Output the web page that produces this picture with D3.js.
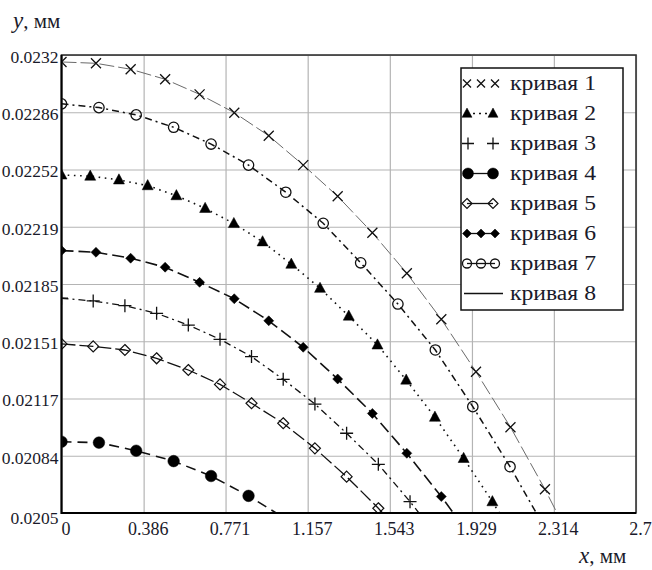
<!DOCTYPE html>
<html><head><meta charset="utf-8">
<script src="https://cdn.jsdelivr.net/npm/d3@7"></script>
<style>body{margin:0;background:#fff}svg{display:block}</style>
</head><body><div id="chart"></div>
<script>
// ---------- data ----------
const xTicks = [0, 0.386, 0.771, 1.157, 1.543, 1.929, 2.314, 2.7];
const xTickLabels = ["0", "0.386", "0.771", "1.157", "1.543", "1.929", "2.314", "2.7"];
const yTicks = [0.0205, 0.0208375, 0.021175, 0.0215125, 0.02185, 0.0221875, 0.022525, 0.0228625, 0.0232];
const yTickLabels = ["0.0205", "0.02084", "0.02117", "0.02151", "0.02185", "0.02219", "0.02252", "0.02286", "0.0232"];

const seriesNames = ["кривая 1", "кривая 2", "кривая 3", "кривая 4", "кривая 5", "кривая 6", "кривая 7", "кривая 8"];

const xA = [0, 0.162, 0.325, 0.487, 0.649, 0.812, 0.974, 1.136, 1.298, 1.461, 1.623, 1.785, 1.948, 2.110, 2.272, 2.435];
const xB = [0, 0.135, 0.270, 0.405, 0.540, 0.675, 0.810, 0.945, 1.080, 1.215, 1.350, 1.485, 1.620, 1.755, 1.890, 2.025, 2.160];
const xC = [0, 0.149, 0.298, 0.447, 0.596, 0.745, 0.893, 1.042, 1.191, 1.340, 1.489, 1.638, 1.787];
const xD = [0, 0.176, 0.351, 0.527, 0.703, 0.879, 1.054, 1.230, 1.406, 1.581, 1.757, 1.933, 2.108, 2.284];

const y1 = [0.023159, 0.023151, 0.023116, 0.023057, 0.022968, 0.022860, 0.022724, 0.022551, 0.022367, 0.022152, 0.021913, 0.021642, 0.021333, 0.021006, 0.020640, 0.020240];
const y2 = [0.022493, 0.022486, 0.022464, 0.022430, 0.022371, 0.022296, 0.022207, 0.022099, 0.021967, 0.021825, 0.021661, 0.021491, 0.021284, 0.021065, 0.020822, 0.020567, 0.020288];
const y3 = [0.021766, 0.021750, 0.021722, 0.021677, 0.021608, 0.021524, 0.021422, 0.021288, 0.021142, 0.020970, 0.020787, 0.020567, 0.020329];
const y4 = [0.020920, 0.020915, 0.020867, 0.020806, 0.020718, 0.020601, 0.020465];
const y5 = [0.021497, 0.021482, 0.021461, 0.021412, 0.021343, 0.021258, 0.021147, 0.021029, 0.020881, 0.020714, 0.020528, 0.020323];
const y6 = [0.022047, 0.022037, 0.022002, 0.021949, 0.021860, 0.021763, 0.021633, 0.021477, 0.021290, 0.021087, 0.020852, 0.020597, 0.020317];
const y7 = [0.022912, 0.022890, 0.022847, 0.022774, 0.022675, 0.022551, 0.022391, 0.022208, 0.021975, 0.021732, 0.021461, 0.021127, 0.020773, 0.020384];
const y8 = y1; // curve 8 is a thin solid line along curve 1

// ---------- layout ----------
const W = 652, H = 570;
const L = 61.5, R = 636, T = 55, B = 513;
const x = d3.scaleLinear().domain([0, 2.7]).range([L, R]);
const y = d3.scaleLinear().domain([0.0205, 0.0232]).range([B, T]);

const svg = d3.select("#chart").append("svg").attr("width", W).attr("height", H);

// grid
svg.append("g").attr("transform", `translate(0,${B})`)
  .call(d3.axisBottom(x).tickValues(xTicks).tickSize(-(B - T)).tickFormat(""))
  .call(g => g.select(".domain").remove())
  .call(g => g.selectAll("line").attr("stroke", "#b4b4b4").attr("stroke-width", 1.2));
svg.append("g").attr("transform", `translate(${L},0)`)
  .call(d3.axisLeft(y).tickValues(yTicks).tickSize(-(R - L)).tickFormat(""))
  .call(g => g.select(".domain").remove())
  .call(g => g.selectAll("line").attr("stroke", "#b4b4b4").attr("stroke-width", 1.2));

// tick labels
svg.append("g").attr("transform", `translate(0,${B})`)
  .call(d3.axisBottom(x).tickValues(xTicks).tickSize(0).tickPadding(9).tickFormat((d, i) => xTickLabels[i]))
  .call(g => g.select(".domain").remove())
  .call(g => g.selectAll("text").attr("font-family", "Liberation Serif, Times New Roman, serif")
    .attr("font-size", 18).attr("fill", "#1a1a2a").attr("dx", 4));
svg.append("g").attr("transform", `translate(${L},0)`)
  .call(d3.axisLeft(y).tickValues(yTicks).tickSize(0).tickPadding(3).tickFormat((d, i) => yTickLabels[i]))
  .call(g => g.select(".domain").remove())
  .call(g => g.selectAll("text").attr("font-family", "Liberation Serif, Times New Roman, serif")
    .attr("font-size", 17.5).attr("fill", "#1a1a2a")
    .attr("dy", (d, i) => i === 0 ? "0.62em" : "0.42em"));

// clip
svg.append("defs").append("clipPath").attr("id", "plot")
  .append("rect").attr("x", L).attr("y", T).attr("width", R - L).attr("height", B - T);
const plot = svg.append("g").attr("clip-path", "url(#plot)");

// marker shapes
const shapes = {
  times: s => `M${-s},${-s}L${s},${s}M${-s},${s}L${s},${-s}`,
  tri: s => `M0,${-s * 1.1}L${s},${s * 0.75}L${-s},${s * 0.75}Z`,
  plus: s => `M${-s},0H${s}M0,${-s}V${s}`,
  circle: s => `M${s},0A${s},${s} 0 1 1 ${-s},0A${s},${s} 0 1 1 ${s},0Z`,
  diamond: s => `M0,${-s}L${s},0L0,${s}L${-s},0Z`
};

const series = [
  {xs: xA, ys: y1, shape: "times", size: 5, fill: "none", stroke: "#111", sw: 1.3, line: false, lsize: 4, lmarks: [467, 481, 495]},
  {xs: xB, ys: y2, shape: "tri", size: 5.5, fill: "#000", stroke: "#000", sw: 0.5, line: true, dash: "1.6,4.6", lw: 1.6, lsize: 5, lmarks: [467, 493]},
  {xs: xC, ys: y3, shape: "plus", size: 6.5, fill: "none", stroke: "#111", sw: 1.3, line: true, dash: "7,4,2,4", lw: 1.3, lsize: 6, lmarks: [468, 493], lnoline: true},
  {xs: xD, ys: y4, shape: "circle", size: 5.8, fill: "#000", stroke: "#000", sw: 0.5, line: true, dash: "10,6", lw: 1.6, lsize: 5.5, lmarks: [468, 493]},
  {xs: xC, ys: y5, shape: "diamond", size: 5.5, fill: "none", stroke: "#111", sw: 1.2, line: true, dash: "14,4", lw: 1.3, lsize: 5, lmarks: [467, 493]},
  {xs: xA, ys: y6, shape: "diamond", size: 5, fill: "#000", stroke: "#000", sw: 0.5, line: true, dash: "12,5", lw: 1.6, lsize: 4.5, lmarks: [467, 481, 495]},
  {xs: xD, ys: y7, shape: "circle", size: 5.2, fill: "none", stroke: "#111", sw: 1.3, line: true, dash: "7,4,2,4", lw: 1.5, lsize: 4.5, lmarks: [467, 481, 495]},
  {xs: xA, ys: y8, shape: null, line: true, dash: "15,4", lw: 1, color: "#6a6a6a"}
];

const lineGen = d3.line().x(d => x(d[0])).y(d => y(d[1]));

series.forEach(s => {
  const pts = s.xs.slice(0, s.ys.length).map((xv, i) => [xv, s.ys[i]]);
  if (s.line) {
    plot.append("path").datum(pts).attr("d", lineGen)
      .attr("fill", "none").attr("stroke", s.color || "#111")
      .attr("stroke-width", s.lw).attr("stroke-dasharray", s.dash);
  }
});
series.forEach(s => {
  if (!s.shape) return;
  const pts = s.xs.slice(0, s.ys.length).map((xv, i) => [xv, s.ys[i]]).filter(d => d[1] >= 0.0205);
  plot.selectAll(null).data(pts).enter().append("path")
    .attr("transform", d => `translate(${x(d[0])},${y(d[1])})`)
    .attr("d", shapes[s.shape](s.size))
    .attr("fill", s.fill).attr("stroke", s.stroke).attr("stroke-width", s.sw);
});

// frame
svg.append("rect").attr("x", L).attr("y", T).attr("width", R - L).attr("height", B - T)
  .attr("fill", "none").attr("stroke", "#333").attr("stroke-width", 1.6);
svg.append("line").attr("x1", L).attr("x2", L).attr("y1", T).attr("y2", B + 1)
  .attr("stroke", "#000").attr("stroke-width", 2);
svg.append("line").attr("x1", L).attr("x2", R).attr("y1", B).attr("y2", B)
  .attr("stroke", "#000").attr("stroke-width", 2);

// legend
const lg = svg.append("g");
lg.append("rect").attr("x", 461).attr("y", 68).attr("width", 162).attr("height", 242)
  .attr("fill", "#fff").attr("stroke", "#111").attr("stroke-width", 1.5);
series.forEach((s, i) => {
  const cy = 83.5 + 30 * i;
  if (!s.shape) {
    lg.append("line").attr("x1", 464).attr("x2", 503).attr("y1", cy).attr("y2", cy)
      .attr("stroke", "#111").attr("stroke-width", 1.3);
  } else {
    if (s.line && !s.lnoline) {
      lg.append("line").attr("x1", s.lmarks[0]).attr("x2", s.lmarks[s.lmarks.length - 1])
        .attr("y1", cy).attr("y2", cy).attr("stroke", "#111").attr("stroke-width", 1.3)
        .attr("stroke-dasharray", s.shape === "tri" ? "2,4" : null);
    }
    s.lmarks.forEach(mx => {
      lg.append("path").attr("transform", `translate(${mx},${cy})`)
        .attr("d", shapes[s.shape](s.lsize))
        .attr("fill", s.fill).attr("stroke", s.stroke).attr("stroke-width", s.sw);
    });
  }
  lg.append("text").attr("x", 510).attr("y", cy).attr("dy", "0.33em")
    .attr("font-family", "Liberation Serif, Times New Roman, serif").attr("font-size", 20.5)
    .attr("textLength", 86).attr("lengthAdjust", "spacingAndGlyphs")
    .attr("fill", "#1a1a2a").text(seriesNames[i]);
});

// axis titles
const ty = svg.append("text").attr("x", 13).attr("y", 28)
  .attr("font-family", "Liberation Serif, serif").attr("font-size", 21).attr("fill", "#1a1a2a");
ty.append("tspan").attr("font-style", "italic").attr("font-size", 23).text("y");
ty.append("tspan").text(", мм");
const tx = svg.append("text").attr("x", 579).attr("y", 569).attr("dy", "-0.3em")
  .attr("font-family", "Liberation Serif, serif").attr("font-size", 21).attr("fill", "#1a1a2a");
tx.append("tspan").attr("font-style", "italic").attr("font-size", 23).text("x");
tx.append("tspan").text(", мм");
</script>
</body></html>
